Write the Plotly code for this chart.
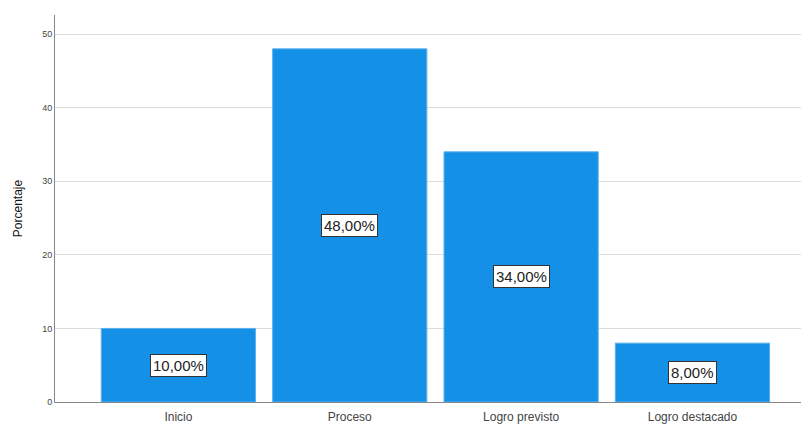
import plotly.graph_objects as go

categories = ["Inicio", "Proceso", "Logro previsto", "Logro destacado"]
values = [10, 48, 34, 8]
y_ticks = [0, 10, 20, 30, 40, 50]

labels = [f"{v:.2f}".replace(".", ",") + "%" for v in values]
xs = list(range(len(categories)))

fig = go.Figure()
fig.add_trace(go.Bar(
    x=xs, y=values, width=0.9,
    marker=dict(color="#1490E6", line=dict(color="#5AB2EE", width=1)),
    hoverinfo="skip",
))
for x, v, t in zip(xs, values, labels):
    fig.add_annotation(
        x=x, y=v / 2, xref="x", yref="y", text=t, showarrow=False,
        font=dict(family="Liberation Sans, Arial", size=15, color="#222222"),
        bgcolor="white", bordercolor="#333333", borderwidth=1, borderpad=2,
    )

fig.update_layout(
    width=801, height=418,
    margin=dict(l=47, r=0, t=7, b=24),
    paper_bgcolor="white", plot_bgcolor="white",
    showlegend=False,
    font=dict(family="Liberation Sans, Arial", color="#333333"),
)
fig.update_xaxes(
    range=[-0.72, 3.68], tickmode="array", tickvals=xs, ticktext=categories,
    tickfont=dict(size=12, color="#444444"), showgrid=False,
    showline=True, linecolor="#888888", linewidth=1,
    ticks="outside", ticklen=4, tickcolor="rgba(0,0,0,0)", zeroline=False,
)
fig.update_yaxes(
    range=[0, 52.6], tickmode="array", tickvals=y_ticks,
    tickfont=dict(size=9, color="#444444"),
    showgrid=True, gridcolor="#dcdcdc", gridwidth=1,
    showline=True, linecolor="#888888", linewidth=1, ticks="", zeroline=False,
    title=dict(text="Porcentaje", font=dict(size=12, color="#111111"), standoff=16),
)

fig.write_html("out.html")
